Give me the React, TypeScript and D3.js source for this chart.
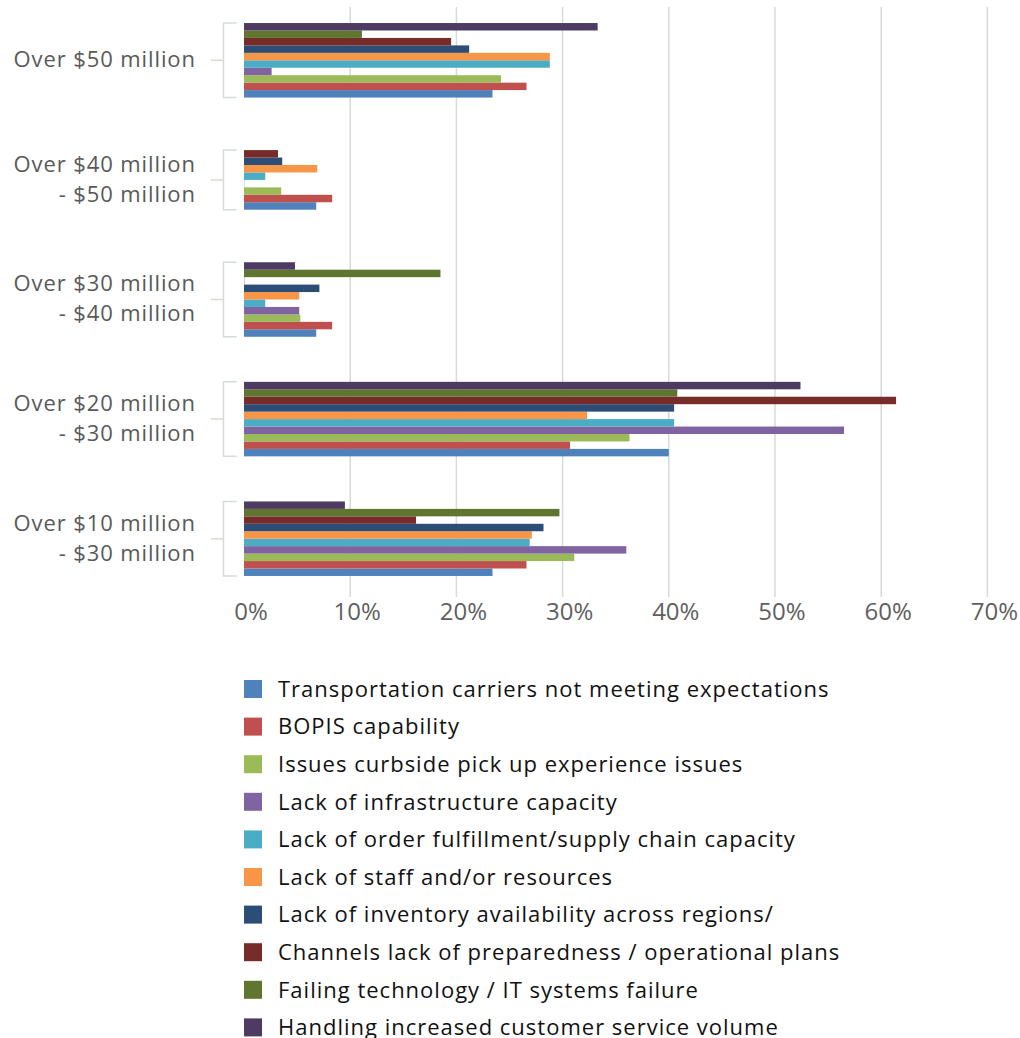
import React from "react";
import * as d3 from "d3";

const categories = [
  ["Over $50 million"],
  ["Over $40 million", "- $50 million"],
  ["Over $30 million", "- $40 million"],
  ["Over $20 million", "- $30 million"],
  ["Over $10 million", "- $30 million"],
];

const seriesNames = [
  "Transportation carriers not meeting expectations",
  "BOPIS capability",
  "Issues curbside pick up experience issues",
  "Lack of infrastructure capacity",
  "Lack of order fulfillment/supply chain capacity",
  "Lack of staff and/or resources",
  "Lack of inventory availability across regions/",
  "Channels lack of preparedness / operational plans",
  "Failing technology / IT systems failure",
  "Handling increased customer service volume",
];

const seriesColors = [
  "#4F81BD", "#C0504D", "#9BBB59", "#8064A2", "#4BACC6",
  "#F79646", "#2C4D75", "#772C2A", "#5F7530", "#4D3B62",
];

// values[category][series], null = not reported
const cat1 = [23.4, 26.6, 24.2, 2.6, 28.8, 28.8, 21.2, 19.5, 11.1, 33.3];
const cat2 = [6.8, 8.3, 3.5, 0, 2.0, 6.9, 3.6, 3.2, null, null];
const cat3 = [6.8, 8.3, 5.3, 5.2, 2.0, 5.2, 7.1, 0, 18.5, 4.8];
const cat4 = [40.0, 30.7, 36.3, 56.5, 40.5, 32.3, 40.5, 61.4, 40.8, 52.4];
const cat5 = [23.4, 26.6, 31.1, 36.0, 26.9, 27.1, 28.2, 16.2, 29.7, 9.5];
const values: (number | null)[][] = [cat1, cat2, cat3, cat4, cat5];

const xTicks = [0, 10, 20, 30, 40, 50, 60, 70];

const FONT = "'Open Sans', sans-serif";

export default function App() {
  const W = 1020, H = 1038;
  const x = d3.scaleLinear().domain([0, 70]).range([244, 987.4]);
  const y = d3.scaleBand<number>().domain(d3.range(categories.length)).range([0.5, 598.5]).padding(0);
  const barH = (y.step() * 0.623) / seriesNames.length;
  const gridTop = 7, gridBottom = 597;
  const bracketX = 223.5;
  const catLS = 0.9;

  return (
    <svg width={W} height={H} style={{ position: "absolute", left: 0, top: 0, background: "#fff" }} fontFamily={FONT}>
      {xTicks.filter((t) => t > 0).map((t) => (
        <line key={t} x1={x(t)} x2={x(t)} y1={gridTop} y2={gridBottom} stroke="#d3ddd3" strokeWidth={1.5} />
      ))}
      {categories.map((lines, ci) => {
        const center = (y(ci) as number) + y.bandwidth() / 2;
        const present = d3.range(seriesNames.length).filter((si) => values[ci][si] !== null);
        const n = present.length;
        const inner = d3.scaleBand<number>()
          .domain(present.slice().reverse())
          .range([center - (n * barH) / 2, center + (n * barH) / 2]);
        const top = center - (n * barH) / 2;
        const bot = center + (n * barH) / 2;
        return (
          <g key={ci}>
            <path
              d={`M236.7,${top}H${bracketX}V${bot}H236.7M211,${center}H${bracketX}`}
              fill="none" stroke="#d3ddd3" strokeWidth={1.5}
            />
            {present.map((si) => {
              const v = values[ci][si] as number;
              return (
                <rect key={si} x={x(0)} y={inner(si)} width={Math.max(x(v) - x(0), 1)} height={inner.bandwidth()}
                  fill={seriesColors[si]} fillOpacity={v === 0 ? 0.25 : 1} />
              );
            })}
            {lines.map((ln, li) => (
              <text key={li} x={195 + catLS} y={center + (li - (lines.length - 1) / 2) * 30 - 1} dy="0.357em"
                textAnchor="end" fontSize={22} letterSpacing={catLS} fill="#595959">{ln}</text>
            ))}
          </g>
        );
      })}
      {xTicks.map((t) => (
        <text key={t} x={x(t) + 7} y={611.5} dy="0.357em" textAnchor="middle" fontSize={24} fill="#5f5f5f">
          {t}%
        </text>
      ))}
      {seriesNames.map((name, si) => {
        const ly = 689 + si * 37.6;
        return (
          <g key={si}>
            <rect x={244} y={ly - 9} width={18} height={18} fill={seriesColors[si]} />
            <text x={278} y={ly} dy="0.357em" fontSize={22} letterSpacing={1.0} fill="#111">{name}</text>
          </g>
        );
      })}
    </svg>
  );
}
